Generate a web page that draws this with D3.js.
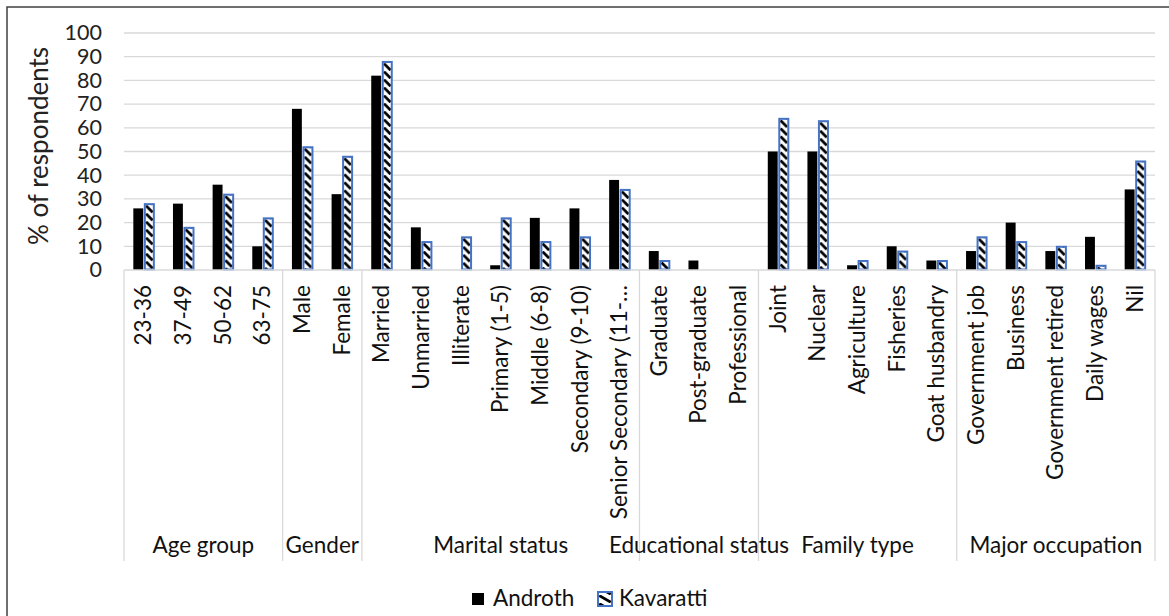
<!DOCTYPE html>
<html>
<head>
<meta charset="utf-8">
<script src="https://cdn.jsdelivr.net/npm/d3@7"></script>
<style>
  html, body { margin: 0; padding: 0; background: #fff; }
  svg { display: block; }
  text { font-family: Lato, "Noto Sans", sans-serif; }
</style>
</head>
<body>
<svg id="chart" width="1169" height="616"></svg>
<script>
// ---- data ----
const categories = [
  "23-36", "37-49", "50-62", "63-75",
  "Male", "Female",
  "Married", "Unmarried", "Illiterate", "Primary (1-5)", "Middle (6-8)", "Secondary (9-10)", "Senior Secondary (11-\u2026",
  "Graduate", "Post-graduate", "Professional",
  "Joint", "Nuclear", "Agriculture", "Fisheries", "Goat husbandry",
  "Government job", "Business", "Government retired", "Daily wages", "Nil"
];
const groups = ["Age group", "Gender", "Marital status", "Educational status", "Family type", "Major occupation"];
const groupSizes = [4, 2, 7, 3, 5, 5];
const seriesNames = ["Androth", "Kavaratti"];
const androth   = [26, 28, 36, 10, 68, 32, 82, 18, 0, 2, 22, 26, 38, 8, 4, 0, 50, 50, 2, 10, 4, 8, 20, 8, 14, 34];
const kavaratti = [28, 18, 32, 22, 52, 48, 88, 12, 14, 22, 12, 14, 34, 4, 0, 0, 64, 63, 4, 8, 4, 14, 12, 10, 2, 46];
const yTicks = [0, 10, 20, 30, 40, 50, 60, 70, 80, 90, 100];

// ---- layout ----
const svg = d3.select("#chart");
const plotL = 124, plotR = 1155, plotT = 33, plotB = 270;
const sepBottom = 561;
const gridColor = "#d9d9d9";
const blue = "#4472C4";
const defs = svg.append("defs");

// dashed downward-diagonal hatch aligned to a box
function makeHatch(id, x0p, y0p, w) {
  const p = defs.append("pattern").attr("id", id).attr("patternUnits", "userSpaceOnUse")
    .attr("x", x0p).attr("y", y0p).attr("width", w).attr("height", 8);
  p.append("rect").attr("width", w).attr("height", 8).attr("fill", "#fff");
  p.append("path").attr("d", `M1.2,0.6 L${w - 1.2},7.2`).attr("stroke", "#000").attr("stroke-width", 2.8);
}

// outer border
svg.append("path").attr("d", "M7,616 L7,7 L1169,7").attr("fill", "none").attr("stroke", "#404040").attr("stroke-width", 1.5);

const x0 = d3.scaleBand().domain(categories).range([plotL, plotR]).paddingInner(0.47).paddingOuter(0.235);
const x1 = d3.scaleBand().domain(seriesNames).range([0, x0.bandwidth()]);
const y = d3.scaleLinear().domain([0, 100]).range([plotB, plotT]);

// gridlines
svg.append("g").selectAll("line").data(yTicks.filter(d => d > 0)).join("line")
  .attr("x1", plotL).attr("x2", plotR)
  .attr("y1", d => y(d)).attr("y2", d => y(d))
  .attr("stroke", gridColor).attr("stroke-width", 1.3);

// y axis via d3 axis
const yAxis = svg.append("g").attr("transform", `translate(${plotL - 20},0)`)
  .call(d3.axisLeft(y).tickValues(yTicks).tickSize(0).tickPadding(2));
yAxis.select(".domain").remove();
yAxis.selectAll("text").attr("font-size", 21.5).attr("fill", "#222").attr("font-family", "Lato, sans-serif");

// y title
svg.append("text").attr("transform", "translate(48,146) rotate(-90)")
  .attr("text-anchor", "middle").attr("font-size", 26).attr("fill", "#222")
  .text("% of respondents");

// bars
const rows = categories.map((c, i) => ({ c, i, vals: [androth[i], kavaratti[i]] }));
const gBars = svg.append("g");
rows.forEach(r => {
  gBars.append("rect")
    .attr("x", x0(r.c) + x1("Androth"))
    .attr("y", y(r.vals[0]))
    .attr("width", x1.bandwidth() - 0.6)
    .attr("height", y(0) - y(r.vals[0]))
    .attr("fill", "#000");
  if (r.vals[1] > 0) {
    const bx = x0(r.c) + x1("Kavaratti") + 1;
    const bw = x1.bandwidth() - 1.5;
    const by = y(r.vals[1]) + 0.5;
    makeHatch("hatch" + r.i, bx, by + 1, bw);
    gBars.append("rect")
      .attr("x", bx)
      .attr("y", by)
      .attr("width", bw)
      .attr("height", Math.max(0, y(0) - y(r.vals[1]) - 1))
      .attr("fill", `url(#hatch${r.i})`)
      .attr("stroke", blue).attr("stroke-width", 2);
  }
});

// category axis area
svg.append("line").attr("x1", plotL).attr("x2", plotR).attr("y1", plotB).attr("y2", plotB)
  .attr("stroke", gridColor).attr("stroke-width", 1.3);

const step = x0.step();
let idx = 0;
const bounds = [plotL];
groupSizes.forEach(n => { idx += n; bounds.push(plotL + idx * step); });
svg.append("g").selectAll("line").data(bounds).join("line")
  .attr("x1", d => d).attr("x2", d => d)
  .attr("y1", plotB).attr("y2", sepBottom)
  .attr("stroke", gridColor).attr("stroke-width", 1.3);

// category labels
svg.append("g").selectAll("text").data(categories).join("text")
  .attr("transform", d => `translate(${x0(d) + x0.bandwidth() / 2 + 7.5},285) rotate(-90)`)
  .attr("text-anchor", "end")
  .attr("font-size", 22.5)
  .attr("fill", "#111")
  .text(d => d);

// group labels
svg.append("g").selectAll("text").data(groups).join("text")
  .attr("x", (d, i) => (bounds[i] + bounds[i + 1]) / 2)
  .attr("y", 553)
  .attr("text-anchor", "middle")
  .attr("font-size", 22.5)
  .attr("fill", "#111")
  .text(d => d);

// legend
const leg = svg.append("g");
leg.append("rect").attr("x", 472).attr("y", 593).attr("width", 12).attr("height", 12).attr("fill", "#000");
leg.append("text").attr("x", 493).attr("y", 606).attr("font-size", 22.5).attr("fill", "#111").text(seriesNames[0]);
makeHatch("hatchLeg", 598, 595, 14);
leg.append("rect").attr("x", 598).attr("y", 592).attr("width", 14).attr("height", 14)
  .attr("fill", "url(#hatchLeg)").attr("stroke", blue).attr("stroke-width", 2);
leg.append("text").attr("x", 619).attr("y", 606).attr("font-size", 22.5).attr("fill", "#111").text(seriesNames[1]);
</script>
</body>
</html>
